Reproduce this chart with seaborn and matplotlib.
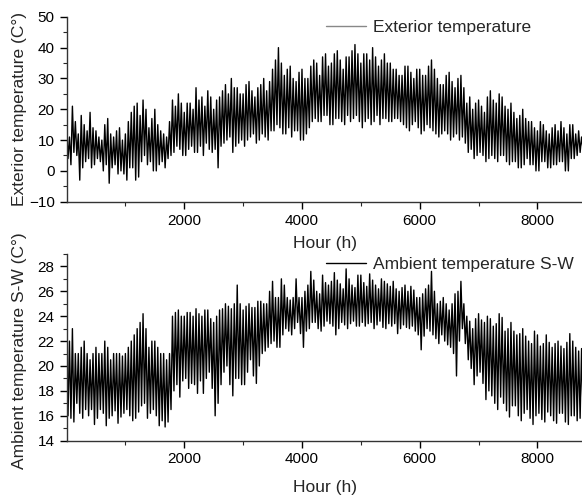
import numpy as np
import pandas as pd
import matplotlib
matplotlib.use("Agg")
import matplotlib.pyplot as plt
import seaborn as sns

# --- hourly readings, sampled: highs every 50 h, lows 25 h later ---
hours_hi = np.arange(0, 8760, 50)
hours_lo = hours_hi + 25

exterior_hi = [14, 11, 21, 16, 12, 18, 15, 13, 19, 14,
               13, 11, 10, 15, 17, 12, 11, 13, 14, 10,
               12, 16, 19, 21, 22, 18, 23, 20, 14, 17,
               20, 15, 13, 12, 11, 16, 23, 21, 25, 22,
               19, 22, 22, 20, 27, 23, 24, 21, 26, 24,
               20, 23, 24, 26, 28, 25, 30, 27, 27, 25,
               25, 28, 29, 26, 24, 27, 28, 30, 26, 29,
               33, 36, 40, 35, 31, 33, 34, 30, 29, 32,
               33, 30, 30, 34, 36, 35, 31, 37, 38, 34,
               35, 38, 39, 36, 33, 37, 37, 39, 41, 38,
               35, 38, 38, 36, 40, 37, 34, 36, 38, 35,
               35, 33, 33, 31, 31, 34, 34, 32, 30, 33,
               33, 31, 31, 34, 36, 33, 30, 28, 28, 31,
               32, 29, 27, 30, 31, 27, 22, 24, 20, 22,
               23, 21, 19, 24, 26, 23, 22, 25, 24, 21,
               20, 22, 19, 17, 18, 20, 17, 16, 16, 14,
               13, 16, 15, 13, 12, 14, 15, 13, 16, 14,
               12, 15, 15, 12, 13, 11]
exterior_lo = [4, 2, 6, 5, -3, 1, 3, 4, 1, 2,
               4, 3, 0, 2, -4, 1, 2, -1, 0, -1,
               -3, 1, 1, -3, -2, 3, 5, 2, 3, 0,
               0, 2, 3, 1, 4, 5, 6, 8, 7, 5,
               5, 7, 8, 6, 6, 8, 5, 9, 7, 6,
               7, 1, 8, 9, 10, 11, 6, 8, 9, 10,
               8, 10, 11, 12, 9, 10, 12, 11, 10, 13,
               13, 15, 14, 12, 12, 14, 11, 13, 13, 10,
               10, 12, 14, 16, 17, 16, 16, 18, 18, 15,
               15, 17, 17, 16, 15, 18, 16, 17, 18, 16,
               14, 16, 17, 15, 16, 18, 15, 17, 17, 16,
               16, 17, 17, 16, 15, 14, 13, 15, 16, 14,
               12, 13, 15, 14, 13, 12, 11, 12, 13, 12,
               10, 11, 12, 10, 11, 9, 6, 7, 4, 5,
               6, 5, 3, 4, 5, 4, 3, 5, 5, 3,
               2, 3, 3, 1, 1, 2, 4, 2, 2, 0,
               0, 3, 3, 1, 1, 2, 2, 3, 3, 0,
               0, 4, 4, 5, 6, 7]

ambient_hi = [21, 22, 23, 21, 21, 21.5, 22, 21, 20.5, 21,
              21.5, 21, 21, 22, 21.5, 20.5, 21, 21, 21, 20.8,
              21, 21.5, 22, 22.5, 23, 23.5, 24.2, 23, 21.5, 22,
              22, 21.5, 21, 21, 20.5, 21, 24, 24.3, 24.5, 24,
              24, 24.3, 24.3, 24, 24.6, 24.2, 24, 24.5, 24.5, 23.8,
              23.5, 24, 24.5, 24.6, 25, 24.8, 24.6, 25, 26.5, 25,
              24.5, 24.8, 25, 24.7, 24.7, 25.2, 25.2, 25, 25, 26,
              26.8, 25.5, 25.5, 27, 26.5, 25.5, 25.3, 25.5, 27, 25.5,
              25.5, 26.0, 26.5, 27.6, 26.9, 26.0, 25.8, 27.3, 26.7, 26.5,
              26.8, 27.5, 26.9, 26.6, 26.2, 27.8, 27.0, 26.5, 26.3, 27.3,
              27.3, 26.7, 26.4, 27.4, 26.9, 26.5, 26.2, 27.0, 26.8, 26.6,
              26.4, 26.8, 26.2, 26.0, 26.3, 26.5, 26.0, 26.4, 26.1, 25.5,
              25.5, 25.8, 26.2, 26.5, 27.6, 26.0, 25.0, 25.2, 25.5, 25.0,
              24.5, 25.0, 25.8, 26.0, 26.8, 25.0, 24.0, 23.6, 23.0, 23.8,
              24.2, 23.7, 23.5, 24.0, 23.8, 23.2, 23.4, 24.2, 23.9, 22.8,
              23.0, 23.5, 22.8, 22.5, 22.6, 23.0, 22.4, 22.0, 21.8, 22.8,
              22.5, 21.6, 21.8, 22.5, 21.9, 21.5, 21.8, 22.0, 21.6, 21.4,
              21.9, 22.6, 22.0, 21.5, 21.2, 21.4]
ambient_lo = [16, 15.8, 15.5, 17, 16.2, 15.8, 16.5, 16, 16.5, 15.3,
              15.8, 16.5, 16.2, 15.2, 15.8, 16, 16.4, 15.4, 15.9, 16.2,
              16.5, 16, 15.6, 15.8, 16.3, 16.8, 17, 15.8, 16.2, 16.5,
              16, 15.2, 15.6, 15.1, 15.5, 16.5, 18, 18.5, 17.5, 18.8,
              19, 18.2, 18.6, 18.5, 17.8, 18.8, 17.8, 19, 19.5, 18.2,
              16, 17, 18.5, 19.5, 20, 18.5, 17.6, 19, 19, 18.5,
              18.5, 19.5, 20.5, 19.2, 18.6, 20, 21, 21.2, 21.5, 21.8,
              22, 21.5, 21.5, 22.5, 23, 22.8, 22.5, 23, 23.5, 22.6,
              21.5, 22.8, 23, 23.5, 23.5, 23, 22.8, 23.2, 23.6, 23.4,
              23.2, 22.5, 23, 23.5, 23.3, 23, 23.4, 23.6, 23.2, 23.2,
              23.5, 23.2, 23.4, 23.5, 23, 23.3, 23.6, 23.1, 23, 23.4,
              23.2, 23.4, 22.6, 23, 23.3, 23.1, 23, 23.2, 22.8, 22.5,
              21.3, 22.4, 23, 22.8, 22.5, 22.2, 21.8, 22.5, 22, 21.7,
              21.5, 21, 19.2, 22, 23, 21.8, 20.5, 19.8, 18.5, 19.2,
              19.5, 18.6, 17.3, 18, 17.6, 17, 16.5, 17.5, 17, 16.4,
              15.9, 16.8, 16.8, 16, 15.6, 16.2, 16.5, 15.8, 15.3, 16,
              16.2, 15.7, 15.5, 16.3, 16, 15.6, 15.4, 16.2, 16.2, 15.5,
              15.3, 16, 16, 15.6, 15.8, 16.2]


def interleave(hi, lo):
    out = np.empty(len(hi) + len(lo))
    out[0::2] = hi
    out[1::2] = lo
    return out


df = pd.DataFrame({
    "hour": interleave(hours_hi, hours_lo),
    "exterior": interleave(exterior_hi, exterior_lo),
    "ambient": interleave(ambient_hi, ambient_lo),
})

sns.set_style("ticks")
plt.rcParams['font.family'] = ['Liberation Sans', 'DejaVu Sans']

fig = plt.figure(figsize=(5.82, 5.01), dpi=100)
ax1 = fig.add_axes([0.1143, 0.5974, 0.886, 0.369])
ax2 = fig.add_axes([0.1143, 0.1204, 0.886, 0.3727])

sns.lineplot(data=df, x="hour", y="exterior", ax=ax1, color="black", lw=1.0,
             estimator=None, sort=False, label="Exterior temperature")
sns.lineplot(data=df, x="hour", y="ambient", ax=ax2, color="black", lw=1.0,
             estimator=None, sort=False, label="Ambient temperature S-W")

panels = [
    (ax1, (-10, 50), np.arange(-10, 51, 10), np.arange(-5, 50, 10),
     "Exterior temperature (C°)", 0.504, -0.185, 0.944, "#888888"),
    (ax2, (14, 29), np.arange(14, 29, 2), np.arange(15, 30, 2),
     "Ambient temperature S-W (C°)", 0.48, -0.211, 0.943, "black"),
]
for ax, ylim, yt, ymt, ylab, ylab_y, xlab_y, leg_y, leg_col in panels:
    ax.set_xlim(0, 8760)
    ax.set_ylim(*ylim)
    ax.set_xticks([2000, 4000, 6000, 8000])
    ax.set_xticks([1000, 3000, 5000, 7000], minor=True)
    ax.set_yticks(yt)
    ax.set_yticks(ymt, minor=True)
    ax.tick_params(which="major", direction="out", length=5, width=1, labelsize=11, colors="black")
    ax.tick_params(which="minor", direction="out", length=3, width=0.8)
    for s in ["top", "right"]:
        ax.spines[s].set_visible(False)
    for s in ["left", "bottom"]:
        ax.spines[s].set_color("#333333")
        ax.spines[s].set_linewidth(1)
    ax.set_xlabel("Hour (h)", fontsize=12.5)
    ax.set_ylabel(ylab, fontsize=12.5)
    ax.xaxis.set_label_coords(0.501, xlab_y)
    ax.yaxis.set_label_coords(-0.077, ylab_y)
    leg = ax.legend(loc="center left", bbox_to_anchor=(0.503, leg_y), frameon=False,
                    fontsize=12.5, handlelength=2.3, handletextpad=0.4,
                    borderpad=0, borderaxespad=0)
    leg.get_lines()[0].set_color(leg_col)
    leg.get_lines()[0].set_linewidth(1)

fig.savefig("out.png", dpi=100)
